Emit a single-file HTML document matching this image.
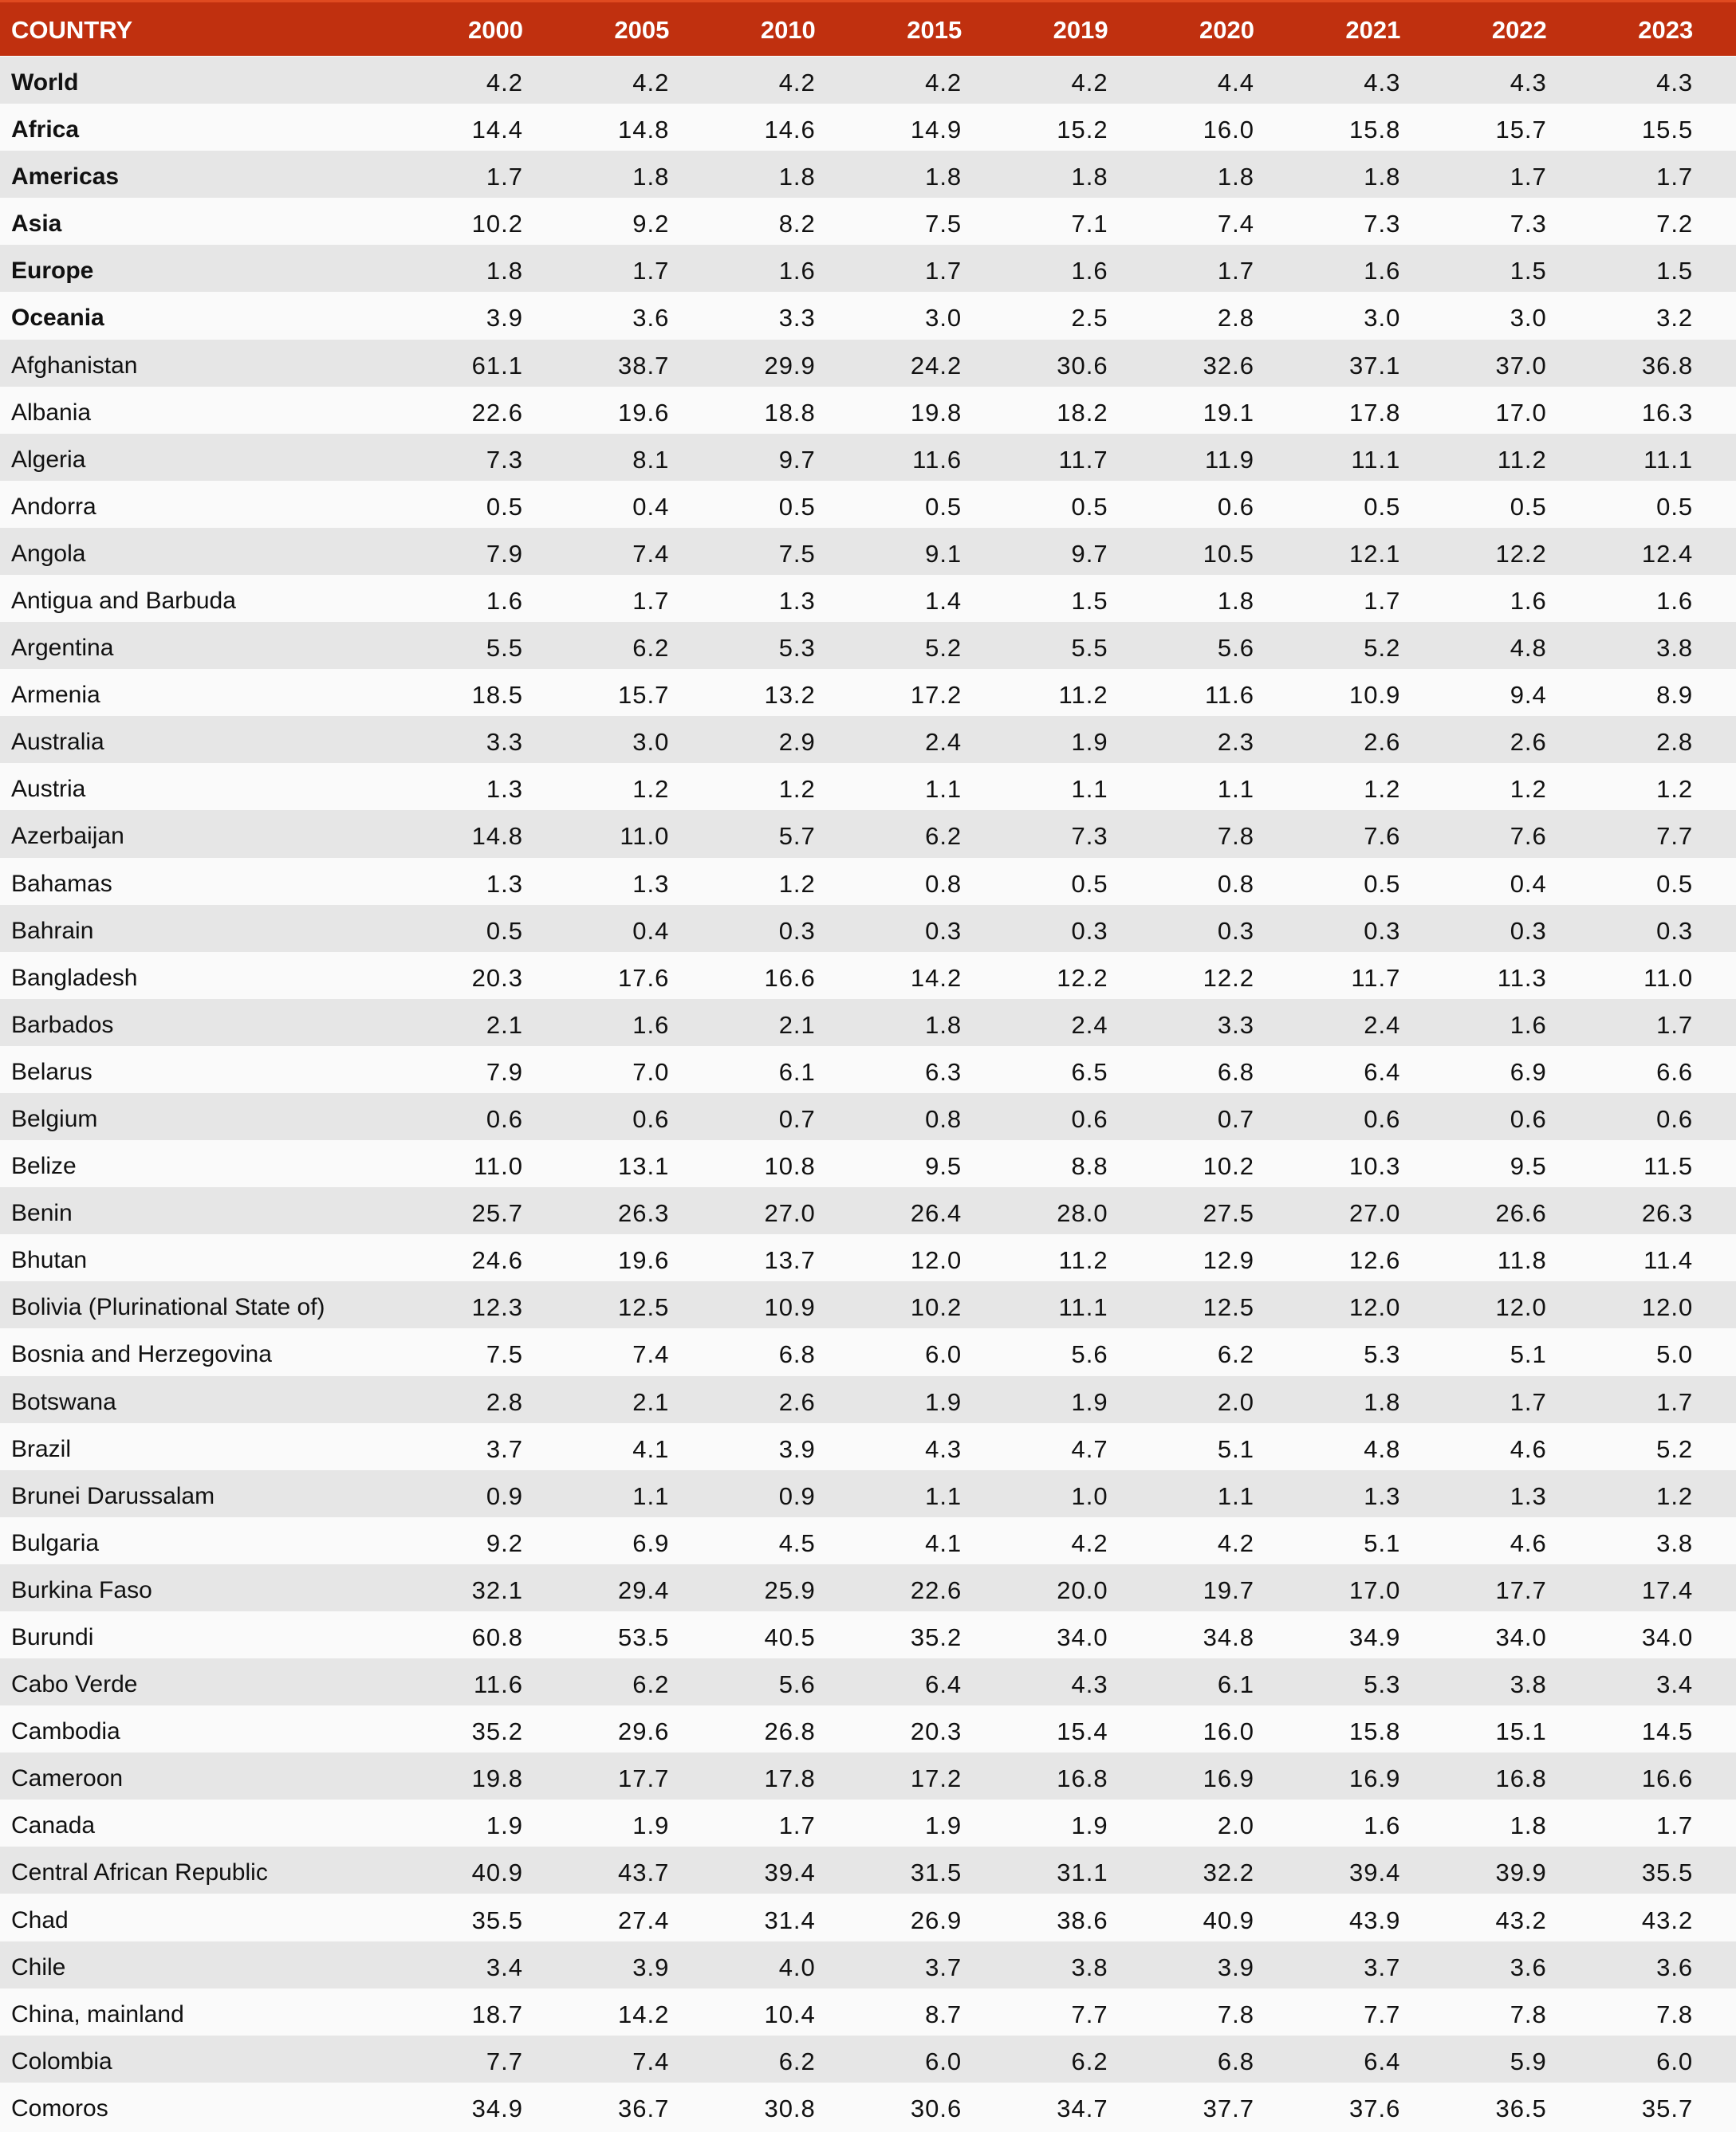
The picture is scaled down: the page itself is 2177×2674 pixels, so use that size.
<!DOCTYPE html>
<html><head><meta charset="utf-8"><style>
body{margin:0;width:2177px;height:2671px;overflow:hidden;background:#fafafa;font-family:"Liberation Sans",sans-serif;}
.r{position:absolute;left:0;width:2177px;height:59.09px;}
.g{background:#e6e6e6}.w{background:#fafafa}
.h{position:absolute;left:0;top:0;width:2177px;height:70px;background:#c0300f;border-top:3px solid #e04a20;box-sizing:border-box;}
.c{position:absolute;top:3px;line-height:59px;font-size:31px;color:#111;white-space:nowrap;}
.n{left:14px;font-size:30px}
.v{width:150px;text-align:right;letter-spacing:1px}
.b{font-weight:bold}
.h .c{top:1px;line-height:68px;color:#fff;font-weight:bold;font-size:31px;letter-spacing:0}
</style></head><body>
<div id="t"></div>
<script>
const rows=`World|4.2|4.2|4.2|4.2|4.2|4.4|4.3|4.3|4.3
Africa|14.4|14.8|14.6|14.9|15.2|16.0|15.8|15.7|15.5
Americas|1.7|1.8|1.8|1.8|1.8|1.8|1.8|1.7|1.7
Asia|10.2|9.2|8.2|7.5|7.1|7.4|7.3|7.3|7.2
Europe|1.8|1.7|1.6|1.7|1.6|1.7|1.6|1.5|1.5
Oceania|3.9|3.6|3.3|3.0|2.5|2.8|3.0|3.0|3.2
Afghanistan|61.1|38.7|29.9|24.2|30.6|32.6|37.1|37.0|36.8
Albania|22.6|19.6|18.8|19.8|18.2|19.1|17.8|17.0|16.3
Algeria|7.3|8.1|9.7|11.6|11.7|11.9|11.1|11.2|11.1
Andorra|0.5|0.4|0.5|0.5|0.5|0.6|0.5|0.5|0.5
Angola|7.9|7.4|7.5|9.1|9.7|10.5|12.1|12.2|12.4
Antigua and Barbuda|1.6|1.7|1.3|1.4|1.5|1.8|1.7|1.6|1.6
Argentina|5.5|6.2|5.3|5.2|5.5|5.6|5.2|4.8|3.8
Armenia|18.5|15.7|13.2|17.2|11.2|11.6|10.9|9.4|8.9
Australia|3.3|3.0|2.9|2.4|1.9|2.3|2.6|2.6|2.8
Austria|1.3|1.2|1.2|1.1|1.1|1.1|1.2|1.2|1.2
Azerbaijan|14.8|11.0|5.7|6.2|7.3|7.8|7.6|7.6|7.7
Bahamas|1.3|1.3|1.2|0.8|0.5|0.8|0.5|0.4|0.5
Bahrain|0.5|0.4|0.3|0.3|0.3|0.3|0.3|0.3|0.3
Bangladesh|20.3|17.6|16.6|14.2|12.2|12.2|11.7|11.3|11.0
Barbados|2.1|1.6|2.1|1.8|2.4|3.3|2.4|1.6|1.7
Belarus|7.9|7.0|6.1|6.3|6.5|6.8|6.4|6.9|6.6
Belgium|0.6|0.6|0.7|0.8|0.6|0.7|0.6|0.6|0.6
Belize|11.0|13.1|10.8|9.5|8.8|10.2|10.3|9.5|11.5
Benin|25.7|26.3|27.0|26.4|28.0|27.5|27.0|26.6|26.3
Bhutan|24.6|19.6|13.7|12.0|11.2|12.9|12.6|11.8|11.4
Bolivia (Plurinational State of)|12.3|12.5|10.9|10.2|11.1|12.5|12.0|12.0|12.0
Bosnia and Herzegovina|7.5|7.4|6.8|6.0|5.6|6.2|5.3|5.1|5.0
Botswana|2.8|2.1|2.6|1.9|1.9|2.0|1.8|1.7|1.7
Brazil|3.7|4.1|3.9|4.3|4.7|5.1|4.8|4.6|5.2
Brunei Darussalam|0.9|1.1|0.9|1.1|1.0|1.1|1.3|1.3|1.2
Bulgaria|9.2|6.9|4.5|4.1|4.2|4.2|5.1|4.6|3.8
Burkina Faso|32.1|29.4|25.9|22.6|20.0|19.7|17.0|17.7|17.4
Burundi|60.8|53.5|40.5|35.2|34.0|34.8|34.9|34.0|34.0
Cabo Verde|11.6|6.2|5.6|6.4|4.3|6.1|5.3|3.8|3.4
Cambodia|35.2|29.6|26.8|20.3|15.4|16.0|15.8|15.1|14.5
Cameroon|19.8|17.7|17.8|17.2|16.8|16.9|16.9|16.8|16.6
Canada|1.9|1.9|1.7|1.9|1.9|2.0|1.6|1.8|1.7
Central African Republic|40.9|43.7|39.4|31.5|31.1|32.2|39.4|39.9|35.5
Chad|35.5|27.4|31.4|26.9|38.6|40.9|43.9|43.2|43.2
Chile|3.4|3.9|4.0|3.7|3.8|3.9|3.7|3.6|3.6
China, mainland|18.7|14.2|10.4|8.7|7.7|7.8|7.7|7.8|7.8
Colombia|7.7|7.4|6.2|6.0|6.2|6.8|6.4|5.9|6.0
Comoros|34.9|36.7|30.8|30.6|34.7|37.7|37.6|36.5|35.7`.split("\n");
const yrs=["2000","2005","2010","2015","2019","2020","2021","2022","2023"];
const R=i=>656+i*183.4;
let h='<div class="h"><div class="c n">COUNTRY</div>';
yrs.forEach((y,i)=>h+=`<div class="c v" style="left:${R(i)-150}px">${y}</div>`);
h+='</div>';
rows.forEach((r,k)=>{const p=r.split("|");
h+=`<div class="r ${k%2?'w':'g'}" style="top:${71+k*59.09}px"><div class="c n${k<6?' b':''}">${p[0]}</div>`;
for(let i=0;i<9;i++)h+=`<div class="c v" style="left:${R(i)-150}px">${p[i+1]}</div>`;
h+='</div>';});
document.getElementById('t').innerHTML=h;
</script>
</body></html>
